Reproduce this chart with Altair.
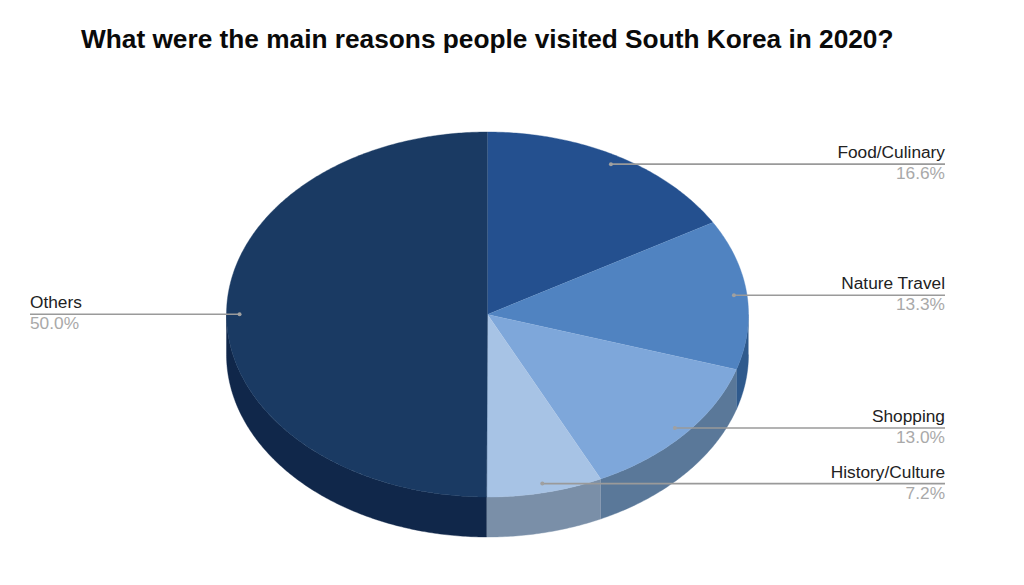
import math
import altair as alt
import pandas as pd

TITLE = "What were the main reasons people visited South Korea in 2020?"
categories = ["Food/Culinary", "Nature Travel", "Shopping", "History/Culture", "Others"]
values = [16.6, 13.3, 13.0, 7.2, 50.0]
top_colors = ["#24508f", "#5083c1", "#7ea7da", "#a7c3e5", "#1a3a63"]
side_colors = ["#1b3c6b", "#2f5a8d", "#5a7899", "#7a8fa8", "#10274a"]

# Pie geometry, in page pixels
CX, CY, RX, RY, DEPTH = 487.5, 314.5, 261.0, 182.5, 40.0
RIGHT_END, LEFT_END = 945, 30
total = sum(values)


def pt(t, f=1.0, drop=0.0):
    return CX + RX * f * math.sin(t), CY - RY * f * math.cos(t) + drop


def arc_pts(a, b, drop=0.0, step=0.01):
    n = max(2, int(abs(b - a) / step))
    return [pt(a + (b - a) * i / n, 1.0, drop) for i in range(n + 1)]


tops, sides, anchors = [], [], []
acc = 0.0
for name, v in zip(categories, values):
    a = 2 * math.pi * acc / total
    b = 2 * math.pi * (acc + v) / total
    acc += v
    poly = [(CX, CY)] + arc_pts(a, b)
    tops += [dict(slice=name, x=x, y=y, i=i) for i, (x, y) in enumerate(poly)]
    lo, hi = max(a, math.pi / 2), min(b, 3 * math.pi / 2)
    if lo < hi:
        front = arc_pts(lo, hi)
        poly = front + arc_pts(hi, lo, DEPTH)
        sides += [dict(slice=name, x=x, y=y, i=i) for i, (x, y) in enumerate(poly)]
    mx, my = pt((a + b) / 2, 0.95)
    end = RIGHT_END if mx > CX else LEFT_END
    anchors.append(dict(name=name, pct=f"{v:.1f}%", x=mx, y=my, x2=end,
                        align="right" if mx > CX else "left"))

XS = alt.Scale(domain=[8, 1016], nice=False, zero=False)
YS = alt.Scale(domain=[570, 70], nice=False, zero=False)
X = alt.X("x:Q", scale=XS, axis=None)
Y = alt.Y("y:Q", scale=YS, axis=None)
ORDER = alt.Order("i:Q")


def shape(rows, colors):
    return (
        alt.Chart(pd.DataFrame(rows))
        .mark_line(filled=True, strokeWidth=0.4, interpolate="linear")
        .encode(
            x=X, y=Y, order=ORDER,
            detail="slice:N",
            color=alt.Color("slice:N", legend=None,
                            scale=alt.Scale(domain=categories, range=colors)),
            stroke=alt.Stroke("slice:N", legend=None,
                              scale=alt.Scale(domain=categories, range=colors)),
        )
    )


a_df = pd.DataFrame(anchors)
rules = alt.Chart(a_df).mark_rule(color="#9a9a9a", strokeWidth=1.6).encode(x=X, x2="x2:Q", y=Y)
dots = alt.Chart(a_df).mark_point(filled=True, color="#a0a0a0", size=16, opacity=1).encode(x=X, y=Y)


def labels(data, field, color, dy):
    return alt.Chart(data).mark_text(
        font="Liberation Sans", fontSize=17.3, color=color, align=data["align"].iloc[0], dy=dy
    ).encode(x=alt.X("x2:Q", scale=XS, axis=None), y=Y, text=f"{field}:N")


text_layers = []
for side in ["right", "left"]:
    d = a_df[a_df["align"] == side]
    text_layers.append(labels(d, "name", "#222222", -11))
    text_layers.append(labels(d, "pct", "#a9a9a9", 10))

chart = alt.layer(
    shape(sides, side_colors), shape(tops, top_colors), rules, dots, *text_layers
).resolve_scale(color="independent", stroke="independent").properties(
    width=1008,
    height=500,
    padding={"left": 0, "right": 0, "top": 18, "bottom": 0},
    background="white",
    title=alt.TitleParams(
        TITLE, anchor="start", frame="group", dx=73, offset=17,
        font="Liberation Sans", fontSize=26.25, fontWeight="bold", color="#0a0a0a",
    ),
).configure_view(stroke=None)

chart.save("out.html", embed_options={"renderer": "svg", "actions": False})
